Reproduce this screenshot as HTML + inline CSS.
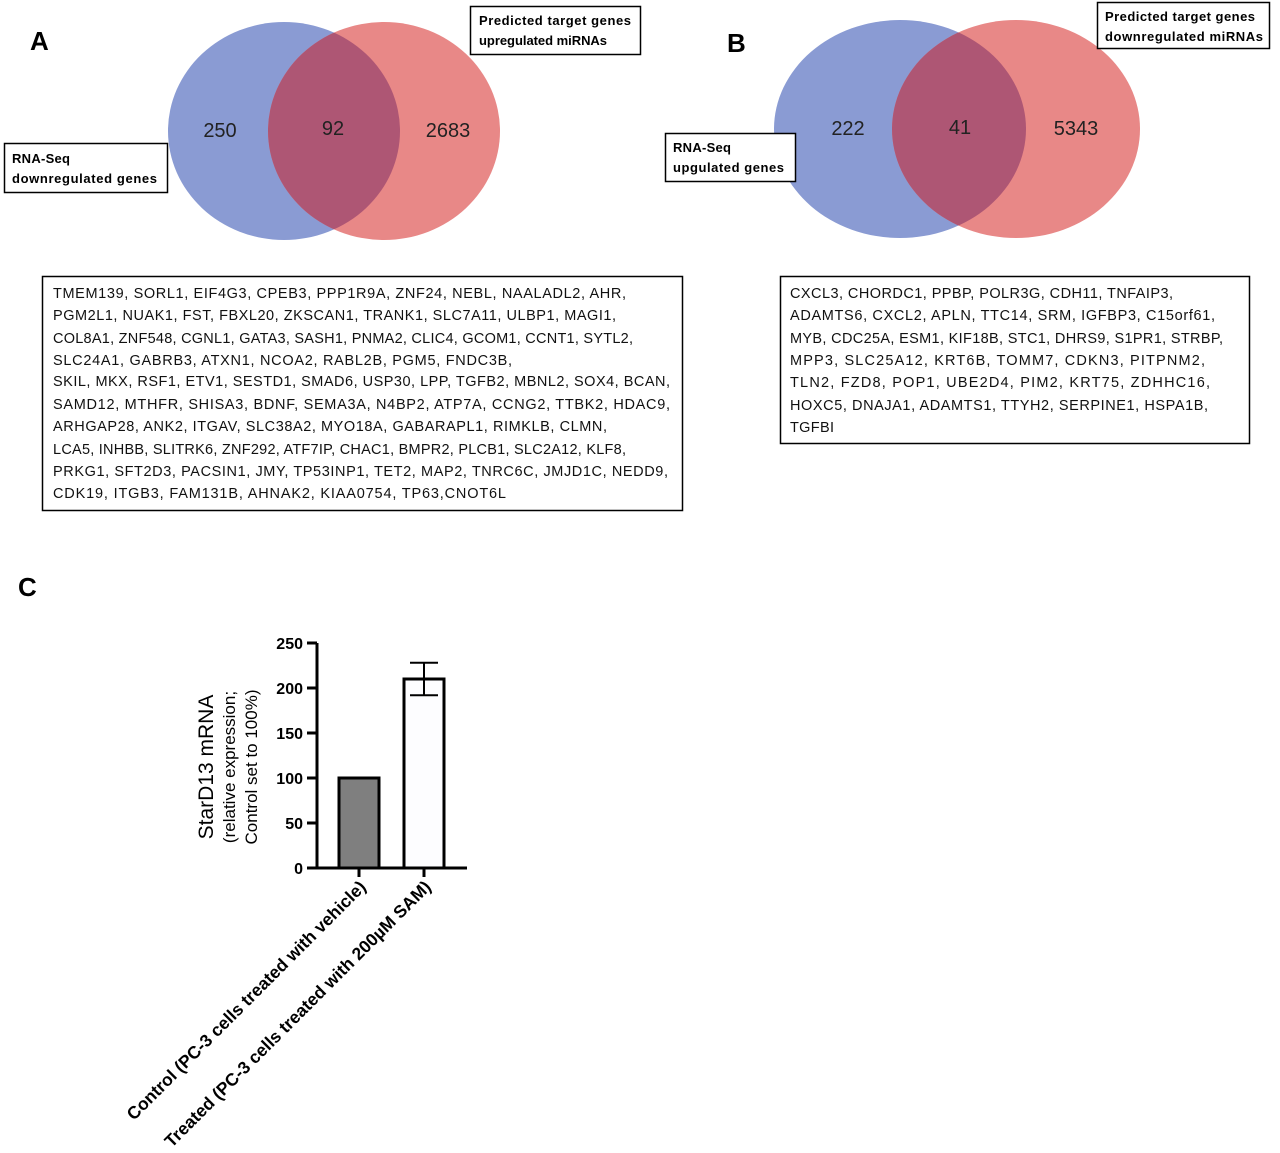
<!DOCTYPE html>
<html><head><meta charset="utf-8"><style>
body{margin:0;background:#fff;width:1280px;height:1153px;overflow:hidden;font-family:"Liberation Sans",sans-serif}
svg{position:absolute;left:0;top:0}
</style></head><body>
<svg width="1280" height="1153" viewBox="0 0 1280 1153" xmlns="http://www.w3.org/2000/svg" font-family="Liberation Sans, sans-serif">
<defs>
<clipPath id="cA"><ellipse cx="284" cy="131" rx="116" ry="109"/></clipPath>
<clipPath id="cB"><ellipse cx="900" cy="129" rx="126" ry="109"/></clipPath>
</defs>
<g>
<text x="30" y="50" font-size="26" font-weight="bold">A</text>
<ellipse cx="284" cy="131" rx="116" ry="109" fill="#8a9bd3"/>
<ellipse cx="384" cy="131" rx="116" ry="109" fill="#e88887"/>
<ellipse cx="384" cy="131" rx="116" ry="109" fill="#ae5674" clip-path="url(#cA)"/>
<text x="220" y="137" font-size="20" text-anchor="middle" fill="#222">250</text>
<text x="333" y="135" font-size="20" text-anchor="middle" fill="#222">92</text>
<text x="448" y="137" font-size="20" text-anchor="middle" fill="#222">2683</text>
<g><rect x="470.5" y="6.5" width="170" height="48" fill="#fff" stroke="#000" stroke-width="1.5"/>
<text x="479" y="25" font-size="13" font-weight="bold" textLength="152">Predicted target genes</text>
<text x="479" y="45" font-size="13" font-weight="bold" textLength="128">upregulated miRNAs</text></g>
<g><rect x="4.5" y="143.5" width="163" height="49" fill="#fff" stroke="#000" stroke-width="1.5"/>
<text x="12" y="163" font-size="13" font-weight="bold" textLength="58">RNA-Seq</text>
<text x="12" y="183" font-size="13" font-weight="bold" textLength="145">downregulated genes</text></g>
<g>
<rect x="42.5" y="276.5" width="640" height="234" fill="#fff" stroke="#000" stroke-width="1.5"/>
<g font-size="14.5" fill="#111">
<text x="53" y="298" textLength="573">TMEM139, SORL1, EIF4G3, CPEB3, PPP1R9A, ZNF24, NEBL, NAALADL2, AHR,</text>
<text x="53" y="320" textLength="563">PGM2L1, NUAK1, FST, FBXL20, ZKSCAN1, TRANK1, SLC7A11, ULBP1, MAGI1,</text>
<text x="53" y="343" textLength="580">COL8A1, ZNF548, CGNL1, GATA3, SASH1, PNMA2, CLIC4, GCOM1, CCNT1, SYTL2,</text>
<text x="53" y="365" textLength="459">SLC24A1, GABRB3, ATXN1, NCOA2, RABL2B, PGM5, FNDC3B,</text>
<text x="53" y="386" textLength="617">SKIL, MKX, RSF1, ETV1, SESTD1, SMAD6, USP30, LPP, TGFB2, MBNL2, SOX4, BCAN,</text>
<text x="53" y="409" textLength="617">SAMD12, MTHFR, SHISA3, BDNF, SEMA3A, N4BP2, ATP7A, CCNG2, TTBK2, HDAC9,</text>
<text x="53" y="431" textLength="554">ARHGAP28, ANK2, ITGAV, SLC38A2, MYO18A, GABARAPL1, RIMKLB, CLMN,</text>
<text x="53" y="454" textLength="573">LCA5, INHBB, SLITRK6, ZNF292, ATF7IP, CHAC1, BMPR2, PLCB1, SLC2A12, KLF8,</text>
<text x="53" y="476" textLength="615">PRKG1, SFT2D3, PACSIN1, JMY, TP53INP1, TET2, MAP2, TNRC6C, JMJD1C, NEDD9,</text>
<text x="53" y="498" textLength="453">CDK19, ITGB3, FAM131B, AHNAK2, KIAA0754, TP63,CNOT6L</text>
</g></g>
</g>
<g>
<text x="727" y="52" font-size="26" font-weight="bold">B</text>
<ellipse cx="900" cy="129" rx="126" ry="109" fill="#8a9bd3"/>
<ellipse cx="1016" cy="129" rx="124" ry="109" fill="#e88887"/>
<ellipse cx="1016" cy="129" rx="124" ry="109" fill="#ae5674" clip-path="url(#cB)"/>
<text x="848" y="135" font-size="20" text-anchor="middle" fill="#222">222</text>
<text x="960" y="134" font-size="20" text-anchor="middle" fill="#222">41</text>
<text x="1076" y="135" font-size="20" text-anchor="middle" fill="#222">5343</text>
<g><rect x="1097.5" y="2.5" width="172" height="46" fill="#fff" stroke="#000" stroke-width="1.5"/>
<text x="1105" y="21" font-size="13" font-weight="bold" textLength="150">Predicted target genes</text>
<text x="1105" y="41" font-size="13" font-weight="bold" textLength="158">downregulated miRNAs</text></g>
<g><rect x="665.5" y="133.5" width="130" height="48" fill="#fff" stroke="#000" stroke-width="1.5"/>
<text x="673" y="152" font-size="13" font-weight="bold" textLength="58">RNA-Seq</text>
<text x="673" y="172" font-size="13" font-weight="bold" textLength="111">upgulated genes</text></g>
<g>
<rect x="780.5" y="276.5" width="469" height="167" fill="#fff" stroke="#000" stroke-width="1.5"/>
<g font-size="14.5" fill="#111">
<text x="790" y="298" textLength="383">CXCL3, CHORDC1, PPBP, POLR3G, CDH11, TNFAIP3,</text>
<text x="790" y="320" textLength="425">ADAMTS6, CXCL2, APLN, TTC14, SRM, IGFBP3, C15orf61,</text>
<text x="790" y="343" textLength="433">MYB, CDC25A, ESM1, KIF18B, STC1, DHRS9, S1PR1, STRBP,</text>
<text x="790" y="365" textLength="415">MPP3, SLC25A12, KRT6B, TOMM7, CDKN3, PITPNM2,</text>
<text x="790" y="387" textLength="420">TLN2, FZD8, POP1, UBE2D4, PIM2, KRT75, ZDHHC16,</text>
<text x="790" y="410" textLength="418">HOXC5, DNAJA1, ADAMTS1, TTYH2, SERPINE1, HSPA1B,</text>
<text x="790" y="432" textLength="44">TGFBI</text>
</g></g>
</g>
<text x="18" y="596" font-size="26" font-weight="bold">C</text>
<g id="chart"></g>
</svg>
<script>
const categories = ["Control (PC-3 cells treated with vehicle)", "Treated (PC-3 cells treated with 200\u00b5M SAM)"];
const values = [100, 210];
const errors = [0, 18];
const tickValues = [0, 50, 100, 150, 200, 250];
const NS = "http://www.w3.org/2000/svg";
const g = document.getElementById('chart');
const x0 = 317, y0 = 868, pxPerUnit = 225/250;
const yScale = v => y0 - v * pxPerUnit;
const xCenter = i => 359 + i * 65;
function mk(tag, attrs, parent){const e=document.createElementNS(NS,tag);for(const k in attrs)e.setAttribute(k,attrs[k]);(parent||g).appendChild(e);return e;}
let ya = mk('line',{x1:x0,y1:y0+1,x2:x0,y2:yScale(250),stroke:'#000','stroke-width':3});


let xa = mk('line',{x1:x0-1,y1:y0,x2:467,y2:y0,stroke:'#000','stroke-width':3});


tickValues.forEach(v=>{
  mk('line',{x1:x0-10,y1:yScale(v),x2:x0,y2:yScale(v),stroke:'#000','stroke-width':3});
  const t = mk('text',{x:x0-14,y:yScale(v)+6,'font-size':16,'font-weight':'bold','text-anchor':'end'});
  t.textContent = v;
  
  
});
const fills = ['#7f7f7f','#fdfdff'];
categories.forEach((c,i)=>{
  const cx = xCenter(i);
  const r = mk('rect',{x:cx-20,y:yScale(values[i]),width:40,height:y0-yScale(values[i]),fill:fills[i],stroke:'#000','stroke-width':3});
  
  
  if(errors[i]>0){
    const top=yScale(values[i]+errors[i]), bot=yScale(values[i]-errors[i]);
    mk('line',{x1:cx,y1:top,x2:cx,y2:bot,stroke:'#000','stroke-width':2});
    mk('line',{x1:cx-14,y1:top,x2:cx+14,y2:top,stroke:'#000','stroke-width':2});
    mk('line',{x1:cx-14,y1:bot,x2:cx+14,y2:bot,stroke:'#000','stroke-width':2});
  }
  mk('line',{x1:cx,y1:y0,x2:cx,y2:y0+9,stroke:'#000','stroke-width':3});
  const t = mk('text',{x:0,y:0,'font-size':17.5,'font-weight':'bold','text-anchor':'end',transform:`translate(${cx+8},${y0+20}) rotate(-45)`});
  t.textContent = c;
  
  
});
const tg = mk('g',{transform:'translate(213,767) rotate(-90)'});


mk('text',{x:0,y:0,'font-size':21,'text-anchor':'middle'},tg).textContent='StarD13 mRNA';
mk('text',{x:0,y:22,'font-size':17,'text-anchor':'middle'},tg).textContent='(relative expression;';
mk('text',{x:0,y:44,'font-size':17,'text-anchor':'middle'},tg).textContent='Control set to 100%)';
</script>
</body></html>
